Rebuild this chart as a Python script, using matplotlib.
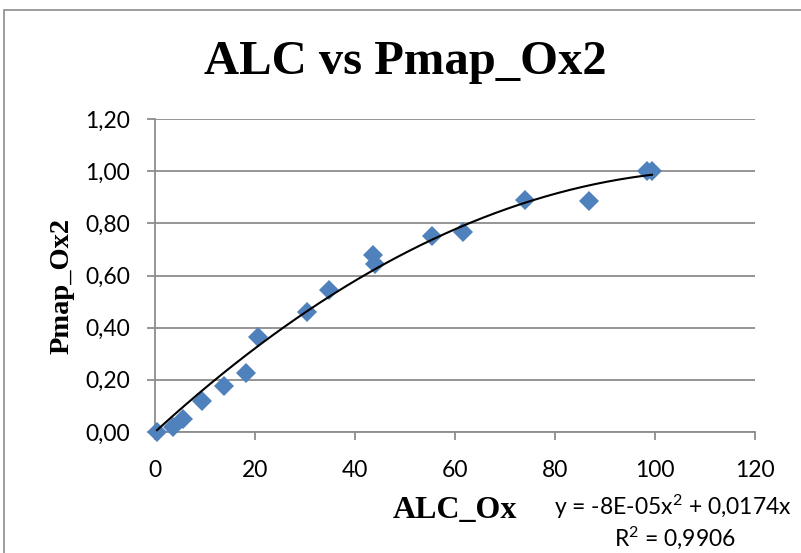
import numpy as np
import matplotlib
matplotlib.use("Agg")
import matplotlib.pyplot as plt
from matplotlib.patches import Rectangle

plt.rcParams["mathtext.fontset"] = "custom"
plt.rcParams["mathtext.rm"] = "Lato"
plt.rcParams["mathtext.it"] = "Lato"
plt.rcParams["mathtext.bf"] = "Lato:bold"

# Measured points
alc_ox = [0.4, 3.6, 5.6, 9.4, 13.8, 18.2, 20.6, 30.4, 34.8, 43.6, 44.0, 55.4, 61.6, 74.0, 86.8, 98.4, 99.4]
pmap_ox2 = [0.00, 0.02, 0.05, 0.12, 0.175, 0.225, 0.365, 0.46, 0.545, 0.68, 0.645, 0.75, 0.765, 0.89, 0.885, 1.00, 1.00]

x_ticks = [0, 20, 40, 60, 80, 100, 120]
y_ticks = [0.0, 0.2, 0.4, 0.6, 0.8, 1.0, 1.2]

title = "ALC vs Pmap_Ox2"
x_label = "ALC_Ox"
y_label = "Pmap_Ox2"
eq_text = "y = -8E-05x$^\\mathrm{2}$ + 0,0174x"
r2_text = "R$^\\mathrm{2}$ = 0,9906"

W, H, DPI = 801, 553, 100
fig = plt.figure(figsize=(W / DPI, H / DPI), dpi=DPI)
fig.patch.set_facecolor("white")

# outer chart frame
fig.patches.append(Rectangle((4 / W, -0.02), 1.5, (H - 10) / H + 0.02,
                             transform=fig.transFigure, fill=False,
                             edgecolor="#8c8c8c", linewidth=1.2))

ax = fig.add_axes([155 / W, 1 - 432 / H, 600 / W, (432 - 119) / H])

# quadratic trend through the origin
xa = np.array(alc_ox)
ya = np.array(pmap_ox2)
A = np.column_stack([xa ** 2, xa])
coef, *_ = np.linalg.lstsq(A, ya, rcond=None)
xs = np.linspace(xa.min(), xa.max(), 200)
ax.plot(xs, coef[0] * xs ** 2 + coef[1] * xs, color="black", linewidth=1.5, zorder=5)

ax.plot(alc_ox, pmap_ox2, linestyle="none", marker="D", markersize=10,
        color="#4F81BD", markeredgewidth=0, zorder=4, clip_on=False)

tick_font = dict(fontfamily="Lato", fontsize=16.5)
ax.set_xlim(0, 120)
ax.set_ylim(0, 1.2)
ax.set_xticks(x_ticks)
ax.set_yticks(y_ticks)
ax.set_xticklabels([str(v) for v in x_ticks], **tick_font)
ax.set_yticklabels([f"{v:.2f}".replace(".", ",") for v in y_ticks], **tick_font)
ax.yaxis.grid(True, color="#8c8c8c", linewidth=1.3)
ax.set_axisbelow(True)
for s in ["top", "right"]:
    ax.spines[s].set_visible(False)
for s in ["left", "bottom"]:
    ax.spines[s].set_color("#8c8c8c")
    ax.spines[s].set_linewidth(1.3)
    ax.spines[s].set_zorder(0.5)
ax.tick_params(axis="both", direction="out", length=6, width=1.3, color="#8c8c8c",
               labelcolor="black")
ax.tick_params(axis="x", pad=14)
ax.tick_params(axis="y", pad=12)

serif = "Liberation Serif"
fig.text(405 / W, 1 - 62 / H, title, ha="center", va="center",
         fontfamily=serif, fontweight="bold", fontsize=35)
fig.text(62 / W, 1 - 286 / H, y_label, ha="center", va="center", rotation=90,
         fontfamily=serif, fontweight="bold", fontsize=20.5)
fig.text(455 / W, 1 - 510 / H, x_label, ha="center", va="center",
         fontfamily=serif, fontweight="bold", fontsize=23)
fig.text(673 / W, 1 - 507 / H, eq_text, ha="center", va="center",
         fontfamily="Lato", fontsize=16.5)
fig.text(675 / W, 1 - 538 / H, r2_text, ha="center", va="center",
         fontfamily="Lato", fontsize=16.5)

fig.savefig("out.png", dpi=DPI)
